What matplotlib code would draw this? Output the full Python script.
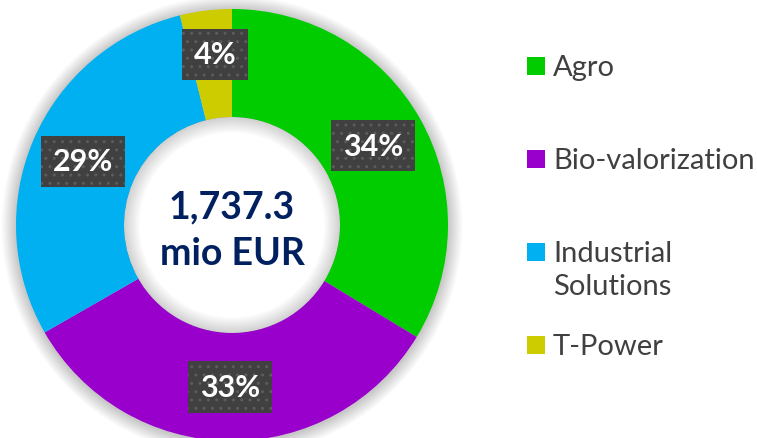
import matplotlib.pyplot as plt
from matplotlib.patches import Circle, Rectangle, Wedge

# segment values in mio EUR (shares)
segments = ["Agro", "Bio-valorization", "Industrial\nSolutions", "T-Power"]
values = [585.0, 574.0, 511.0, 67.3]
colors = ["#00CC00", "#9900CC", "#00B0F0", "#CCCC00"]
total_text = "1,737.3\nmio EUR"

plt.rcParams["font.family"] = ["Lato", "DejaVu Sans"]

fig = plt.figure(figsize=(7.57, 4.39), dpi=100)
ax = fig.add_axes([16 / 757, -3 / 439, 432 / 757, 432 / 439])

wedges, texts, autotexts = ax.pie(
    values, colors=colors, startangle=90, counterclock=False, radius=1.0,
    wedgeprops=dict(width=0.5, linewidth=0),
    autopct=lambda p: f"{p:.0f}%", pctdistance=0.75,
    textprops=dict(color="white", fontsize=22, fontweight="bold"))
for w in wedges:
    w.set_zorder(2)

ax.set_xlim(-1, 1)
ax.set_ylim(-1, 1)
ax.set_aspect("equal")
ax.axis("off")

# soft shadow round the ring
for k in range(1, 12):
    ax.add_patch(Circle((0.0, -0.005), 1.0 + 0.006 * k, color="#000000",
                        alpha=0.02, lw=0, zorder=0, clip_on=False))
ax.add_patch(Circle((0, 0), 0.5, color="white", lw=0, zorder=1))

# soft inner shadow in the hole
for k in range(1, 10):
    ax.add_patch(Wedge((0, 0), 0.5, 0, 360, width=0.008 * k, color="#000000",
                       alpha=0.02, lw=0, zorder=3))

for t in autotexts:
    t.set_zorder(5)
    t.set_bbox(dict(boxstyle="square,pad=0.38", facecolor="#404040",
                    edgecolor="#5c5c5c", hatch="..", linewidth=0))
# the small slice label sits a bit further out
autotexts[3].set_position((-0.08, 0.79))

ax.text(0, -0.02, total_text, ha="center", va="center", fontsize=27,
        fontweight="bold", color="#002060", linespacing=1.45, zorder=6)

# legend
y0, dy = 1 - 67 / 439, 93 / 439
for i, (name, c) in enumerate(zip(segments, colors)):
    y = y0 - i * dy
    fig.patches.append(Rectangle((527 / 757, y - 9 / 439), 18 / 757, 18 / 439,
                                 transform=fig.transFigure, facecolor=c,
                                 edgecolor="none"))
    fig.text(553 / 757, y + 12 / 439, name, ha="left", va="top", fontsize=21,
             color="#404040", linespacing=1.35)

fig.savefig("out.png", dpi=100)
